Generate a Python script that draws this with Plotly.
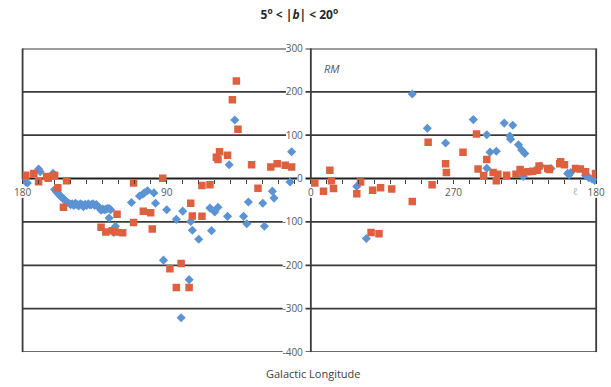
import plotly.graph_objects as go

# ---------------- data (galactic longitude in degrees, RM) ----------------
# Left panel: l from 180 down to 0
blue_left_lon = [178, 177, 170, 169, 161, 162,
                 160, 159, 158, 157, 156, 155, 154, 153, 152, 151, 150, 149, 148,
                 147, 146, 145, 144, 143, 142, 141, 140, 139, 138, 137, 136, 135,
                 134, 133, 131, 130, 129, 128, 127, 126, 125, 126, 122, 123,
                 112, 107, 105, 104, 102, 98, 97, 92, 90, 84, 81, 80, 76, 75, 74,
                 70, 63, 62, 60, 58, 52, 51, 47.5, 42, 40, 39, 30, 29, 24, 23, 13, 12]
blue_left_rm = [-8, -10, 22, 16, 12, 5,
                -25, -30, -33, -38, -42, -45, -48, -52, -55, -57, -60, -58, -62,
                -57, -60, -63, -58, -60, -65, -59, -62, -58, -61, -60, -58, -62,
                -60, -64, -73, -70, -72, -71, -69, -69, -72, -91, -110, -124,
                -55, -40, -36, -33, -28, -33, -57, -188, -72, -94, -321, -75, -233, -99, -119,
                -140, -68, -120, -77, -66, -87, 32, 135, -87, -104, -54, -57, -110, -29, -45, -8, 62]

orange_left_lon = [178, 173, 170, 165, 164, 160, 158, 152.5, 154.5,
                   131, 128, 124, 122, 117.5, 121, 110.7, 110.7, 104.6, 100, 99,
                   92.5, 88, 84, 81, 76, 75, 74, 68, 68, 63, 59, 58, 57, 52,
                   49, 46.5, 45.5, 37, 33, 25, 21, 16, 12]
orange_left_rm = [8, 12, -7, 5, 1, 8, -21, -5, -66,
                  -112, -123, -120, -123, -125, -82, -10, -101, -75, -79, -116,
                  1, -208, -251, -196, -251, -57, -86, -16, -87, -14, 49, 44, 62, 54,
                  182, 225, 114, 32, -22, 27, 34, 31, 27]

# Right panel: l from 360 (shown as 0) down to 180
blue_right_lon = [331, 325, 296, 286.5, 275, 257.5, 249, 249, 247, 243, 238, 232.6,
                  234.5, 234, 229, 227, 225, 226, 215, 208.5, 198, 196, 197,
                  186.7, 184.6, 182.6, 185, 181]
blue_right_rm = [-18, -138, 195, 116, 82, 136, 101, 24, 61, 63, 128, 123,
                 98, 91, 78, 66, 58, 5, 29, 23, 12, 14, 9,
                 7, 2, -1, 4, -4]

orange_right_lon = [357.5, 352, 348, 347, 345.7, 331, 328.6, 322, 321, 317, 316, 309,
                    296, 286, 283.5, 275, 274.5, 264, 255.5, 254.5, 251, 249, 245,
                    243, 242, 236.5, 230.6, 228, 226, 223, 220, 217, 216, 210.6,
                    209.5, 203, 202.4, 200, 193, 190, 186.7, 180.4]
orange_right_rm = [-10, -29, 19, -5, -23, -35, -8, -124, -27, -127, -21, -24,
                   -53, 84, -14, 34, 14, 61, 103, 22, 7, 44, 14,
                   -5, 10, 8, 10, 21, 14, 16, 17, 19, 29, 23,
                   21, 34, 39, 32, 23, 22, 16, 12]

y_ticks = [300, 200, 100, 0, -100, -200, -300, -400]
y_ticktext = ["300", "200", "100", "0", "-100", "-200", "-300", "-400"]
left_xticks = list(range(0, 181, 10))
left_xtext = ["180" if v == 180 else "90" if v == 90 else "0" if v == 0 else " " for v in left_xticks]
right_xticks = list(range(180, 361, 10))
right_xtext = ["270" if v == 270 else "180" if v == 180 else " " for v in right_xticks]

# ---------------- figure ----------------
BLUE = "#5B93D3"
ORANGE = "#DD6040"
GRID = "#3a3a3a"
FONT = "Open Sans"

fig = go.Figure()
fig.add_trace(go.Scatter(x=blue_left_lon, y=blue_left_rm, mode="markers", xaxis="x", yaxis="y",
                         marker=dict(symbol="diamond", size=7, color=BLUE), showlegend=False))
fig.add_trace(go.Scatter(x=blue_right_lon, y=blue_right_rm, mode="markers", xaxis="x2", yaxis="y2",
                         marker=dict(symbol="diamond", size=7, color=BLUE), showlegend=False))
fig.add_trace(go.Scatter(x=orange_left_lon, y=orange_left_rm, mode="markers", xaxis="x", yaxis="y",
                         marker=dict(symbol="square", size=7.5, color=ORANGE), showlegend=False))
fig.add_trace(go.Scatter(x=orange_right_lon, y=orange_right_rm, mode="markers", xaxis="x2", yaxis="y2",
                         marker=dict(symbol="square", size=7.5, color=ORANGE), showlegend=False))

W, H = 611, 387
XL, XM, XR = 14, 311, 605      # pixel x of panel edges
YT, YB, Y0 = 42, 357, 177      # pixel y of 300, -400 and 0
xd1 = [XL / W, XM / W]
xd2 = [XM / W, XR / W]
yd = [(H - YB) / H, (H - YT) / H]
zero_pos = (H - Y0) / H

xcommon = dict(showgrid=False, zeroline=False, showline=False, ticks="outside", ticklen=4,
               tickwidth=1, tickcolor="#404040", anchor="free", position=zero_pos,
               tickfont=dict(family=FONT, size=10, color="#595959"), fixedrange=True)
ycommon = dict(range=[-400, 300], tickvals=y_ticks, ticktext=y_ticktext, showgrid=False,
               zeroline=False, showline=False, ticks="", domain=yd, fixedrange=True,
               tickfont=dict(family=FONT, size=10, color="#595959"))

fig.update_layout(
    width=W, height=H,
    margin=dict(l=0, r=0, t=0, b=0),
    paper_bgcolor="white", plot_bgcolor="rgba(0,0,0,0)",
    font=dict(family=FONT, color="#404040"),
    xaxis=dict(domain=xd1, range=[180, 0], tickvals=left_xticks, ticktext=left_xtext, **xcommon),
    xaxis2=dict(domain=xd2, range=[360, 180], tickvals=right_xticks, ticktext=right_xtext, **xcommon),
    yaxis=dict(anchor="x", showticklabels=False, **ycommon),
    # the right panel's axis carries the labels, placed to its left (between the panels)
    yaxis2=dict(anchor="x2", side="left", showticklabels=True, ticklabelposition="outside",
                ticklabelstandoff=7, **ycommon),
    title=dict(text="<b>5<sup>o</sup> < |<i>b</i>| < 20<sup>o</sup></b>", x=0.49, xanchor="center",
               y=1 - 15 / H, yanchor="middle", font=dict(family=FONT, size=12, color="#262626")),
)


def hseg(x0, x1, v, color=GRID, width=1.8):
    return dict(type="line", xref="paper", yref="y", x0=x0 / W, x1=x1 / W, y0=v, y1=v,
                line=dict(color=color, width=width), layer="below")


def vseg(xp, y0, y1):
    return dict(type="line", xref="paper", yref="paper", x0=xp / W, x1=xp / W,
                y0=1 - y0 / H, y1=1 - y1 / H, line=dict(color=GRID, width=1.8), layer="below")


shapes = []
# horizontal grid / frame lines, interrupted where the y tick labels sit
for v, t in zip(y_ticks, y_ticktext):
    label_w = 5.7 * len(t.replace("-", "")) + (3.4 if t.startswith("-") else 0)
    gap0 = 304 - label_w - 1.5
    col, wid = ("#202020", 2) if v == 0 else (GRID, 1.8)
    shapes += [hseg(XL, gap0, v, col, wid), hseg(305.5, XR, v, col, wid)]
# vertical frame edges, interrupted around the x tick labels on the zero line
for xp in (XL, XM, XR):
    shapes += [vseg(xp, YT, Y0 + 1), vseg(xp, Y0 + 20, YB)]
fig.update_layout(shapes=shapes)

fig.add_annotation(text="<i>RM</i>", xref="paper", yref="paper", x=322 / W, y=1 - 63 / H,
                   xanchor="left", yanchor="middle", showarrow=False,
                   font=dict(family=FONT, size=11, color="#595959"))
fig.add_annotation(text="<i>ℓ</i>", xref="paper", yref="paper", x=584 / W, y=1 - 190 / H,
                   xanchor="center", yanchor="middle", showarrow=False,
                   font=dict(family=FONT, size=10, color="#b0b0b0"))
fig.add_annotation(text="Galactic Longitude", xref="paper", yref="paper", x=314 / W, y=1 - 379 / H,
                   xanchor="center", yanchor="middle", showarrow=False,
                   font=dict(family=FONT, size=11, color="#404040"))

fig.write_html("out.html", config={"displayModeBar": False},
               post_script="document.body.style.margin='0';document.body.style.overflow='hidden';"
                           "document.documentElement.style.overflow='hidden';")
